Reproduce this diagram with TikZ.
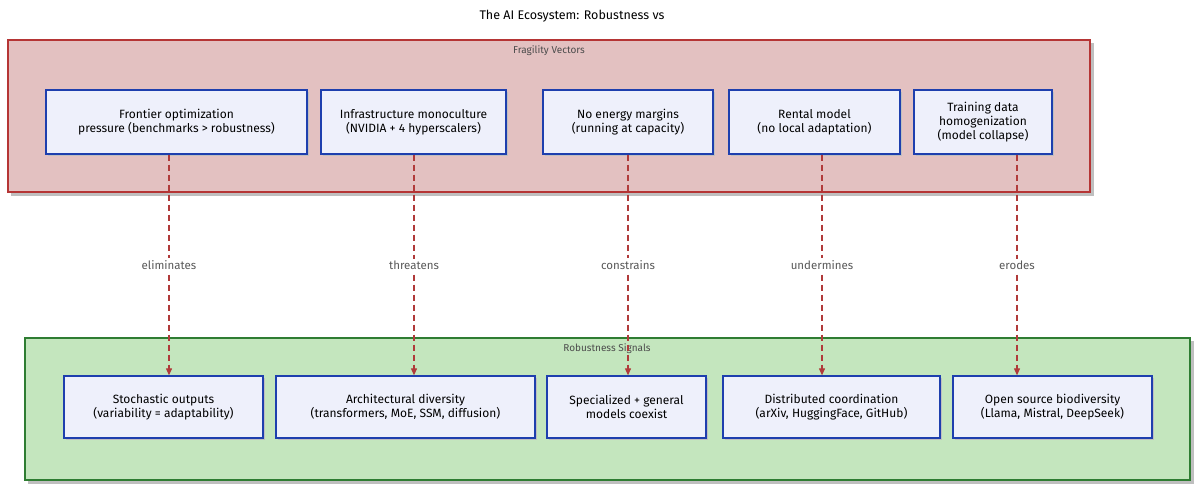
\documentclass[tikz,border=0pt]{standalone}
\usepackage{fontspec}
\setmainfont{Fira Sans}
\usetikzlibrary{arrows.meta,calc}
\definecolor{redfill}{HTML}{E3C1C1}
\definecolor{redline}{HTML}{B53535}
\definecolor{greenfill}{HTML}{C4E6BE}
\definecolor{greenline}{HTML}{2E7D32}
\definecolor{nodefill}{HTML}{EEF0FB}
\definecolor{nodeline}{HTML}{1E3FAE}
\definecolor{arrowc}{HTML}{B03A3A}
\begin{document}
\begin{tikzpicture}[x=1pt,y=-1pt,
  grp/.style={line width=1.3pt},
  box/.style={draw=nodeline,fill=nodefill,line width=1.3pt,align=center,font=\fontsize{12}{14}\selectfont,inner sep=0pt},
  lbl/.style={font=\fontsize{10}{12}\selectfont,text=black!70},
  elbl/.style={font=\fontsize{11.5}{13}\selectfont,text=black!65},
  conn/.style={draw=arrowc,line width=1.1pt,dash pattern=on 6pt off 4pt,-{Triangle[length=7pt,width=6pt]}}]
\useasboundingbox (0,0) rectangle (1200,490);
\node[font=\fontsize{12.5}{14}\selectfont] (title) at (572,16) {The AI Ecosystem: Robustness vs};
% groups
\fill[black!25] (11,43) rectangle (1094,196);
\filldraw[grp,fill=redfill,draw=redline] (8,40) rectangle (1090,192);
\node[lbl] (gf) at (549,51) {Fragility Vectors};
\fill[black!25] (28,341) rectangle (1194,484);
\filldraw[grp,fill=greenfill,draw=greenline] (25,338) rectangle (1190,480);
\node[lbl] (gr) at (607,349) {Robustness Signals};
% top nodes
\newcommand{\tnode}[5]{\fill[black!25] (#2+2,92) rectangle (#3+2,156);
  \node[box,minimum width=#3-#2,minimum height=64] (#1) at ({(#2+#3)/2},122) {#4};}
\tnode{t1}{46}{307}{Frontier optimization\\pressure (benchmarks > robustness)}{}
\tnode{t2}{321}{506}{Infrastructure monoculture\\(NVIDIA + 4 hyperscalers)}{}
\tnode{t3}{543}{713}{No energy margins\\(running at capacity)}{}
\tnode{t4}{729}{900}{Rental model\\(no local adaptation)}{}
\tnode{t5}{914}{1052}{Training data\\homogenization\\(model collapse)}{}
\newcommand{\bnode}[4]{\fill[black!25] (#2+2,378) rectangle (#3+2,440);
  \node[box,minimum width=#3-#2,minimum height=62] (#1) at ({(#2+#3)/2},407) {#4};}
\bnode{b1}{64}{263}{Stochastic outputs\\(variability = adaptability)}
\bnode{b2}{276}{535}{Architectural diversity\\(transformers, MoE, SSM, diffusion)}
\bnode{b3}{547}{706}{Specialized + general\\models coexist}
\bnode{b4}{723}{940}{Distributed coordination\\(arXiv, HuggingFace, GitHub)}
\bnode{b5}{953}{1152}{Open source biodiversity\\(Llama, Mistral, DeepSeek)}
% connectors
\foreach \t/\b/\x/\l in {t1/b1/169/eliminates,t2/b2/414/threatens,t3/b3/628/constrains,t4/b4/822/undermines,t5/b5/1017/erodes}{
  \coordinate (x\t) at (\x,0);
  \draw[conn] (\t.south -| x\t) -- node[elbl,fill=white,inner sep=2pt,pos=0.5] {\l} (\b.north -| x\t);
}
\end{tikzpicture}
\end{document}
